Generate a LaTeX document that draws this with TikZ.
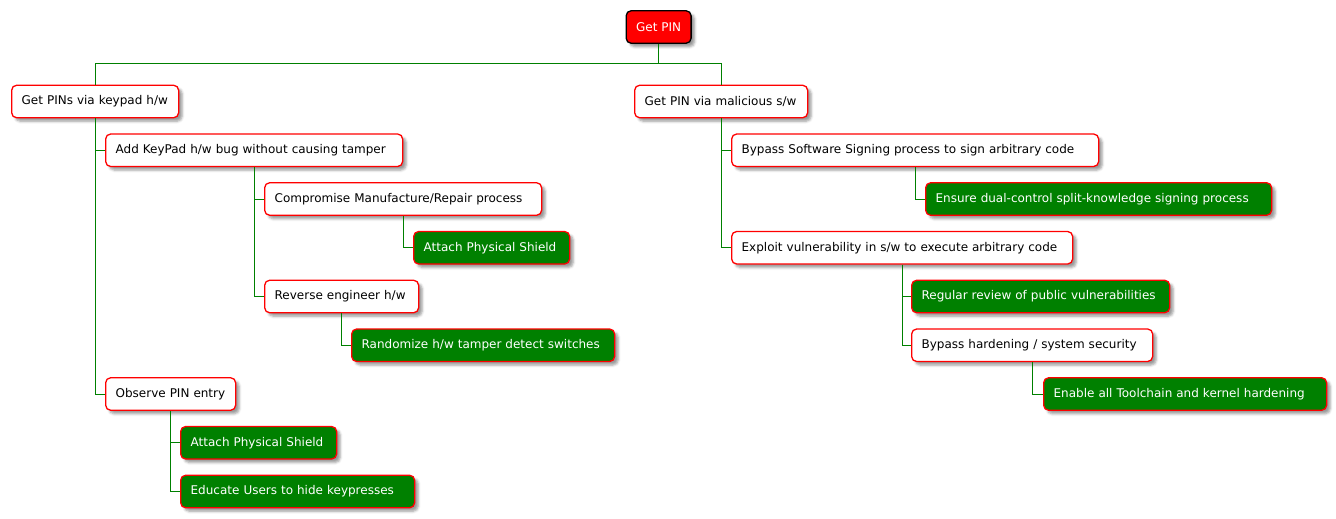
\documentclass[tikz,border=0pt]{standalone}
\usepackage{fontspec}
\setmainfont{DejaVu Sans}
\usetikzlibrary{shadows.blur}
\definecolor{wbsgreen}{HTML}{008000}
\definecolor{wbsred}{HTML}{FF0000}
\begin{document}
\begin{tikzpicture}[x=1pt, y=-1pt, font=\fontsize{12}{14}\selectfont,
          box/.style={draw=wbsred, line width=1.3pt, rounded corners=5pt, fill=white, anchor=west,
            inner xsep=10pt, minimum height=32.5pt,
            blur shadow={shadow xshift=3.5pt, shadow yshift=-3.5pt, shadow blur radius=2.5pt, shadow opacity=40}},
          task/.style={box, text width=#1pt, align=left},
          fix/.style={task=#1, fill=wbsgreen, text=white},
          rootbox/.style={box, draw=black, fill=wbsred, text=white},
          wire/.style={draw=wbsgreen, line width=0.9pt}]
        \useasboundingbox (0,0) rectangle (1336,519);
        \node[rootbox] (pin) at (625.5,27) {Get PIN};
        % keypad branch
        \node[task=147] (kpd) at (11,101.5) {Get PINs via keypad h/w};
        \node[task=277] (bug) at (105,150.25) {Add KeyPad h/w bug without causing tamper};
        \node[task=257] (cmp) at (264,199) {Compromise Manufacture/Repair process};
        \node[fix=136] (shda) at (413,247.75) {Attach Physical Shield};
        \node[task=134] (rev) at (264,296.5) {Reverse engineer h/w};
        \node[fix=243] (rnd) at (351,345.25) {Randomize h/w tamper detect switches};
        \node[task=110] (obs) at (105,394) {Observe PIN entry};
        \node[fix=136] (shdb) at (180,442.75) {Attach Physical Shield};
        \node[fix=214] (edu) at (180,491.5) {Educate Users to hide keypresses};
        % software branch
        \node[task=153] (mal) at (634,101.5) {Get PIN via malicious s/w};
        \node[task=347] (sgn) at (731,150.25) {Bypass Software Signing process to sign arbitrary code};
        \node[fix=326] (dual) at (925,199) {Ensure dual-control split-knowledge signing process};
        \node[task=321] (expl) at (731,247.75) {Exploit vulnerability in s/w to execute arbitrary code};
        \node[fix=238] (rvw) at (911,296.5) {Regular review of public vulnerabilities};
        \node[task=221] (hard) at (911,345.25) {Bypass hardening / system security};
        \node[fix=263] (tool) at (1043,394) {Enable all Toolchain and kernel hardening};
        \draw[wire] (pin.south) -- ++(0,20) -| (kpd.north);
        \draw[wire] (pin.south) -- ++(0,20) -| (mal.north);
        \draw[wire] (kpd.south) |- (bug.west);
        \draw[wire] (kpd.south) |- (obs.west);
        \draw[wire] (bug.south) |- (cmp.west);
        \draw[wire] (bug.south) |- (rev.west);
        \draw[wire] (cmp.south) |- (shda.west);
        \draw[wire] (rev.south) |- (rnd.west);
        \draw[wire] (obs.south) |- (shdb.west);
        \draw[wire] (obs.south) |- (edu.west);
        \draw[wire] (mal.south) |- (sgn.west);
        \draw[wire] (mal.south) |- (expl.west);
        \draw[wire] (sgn.south) |- (dual.west);
        \draw[wire] (expl.south) |- (rvw.west);
        \draw[wire] (expl.south) |- (hard.west);
        \draw[wire] (hard.south) |- (tool.west);
      \end{tikzpicture}
\end{document}
